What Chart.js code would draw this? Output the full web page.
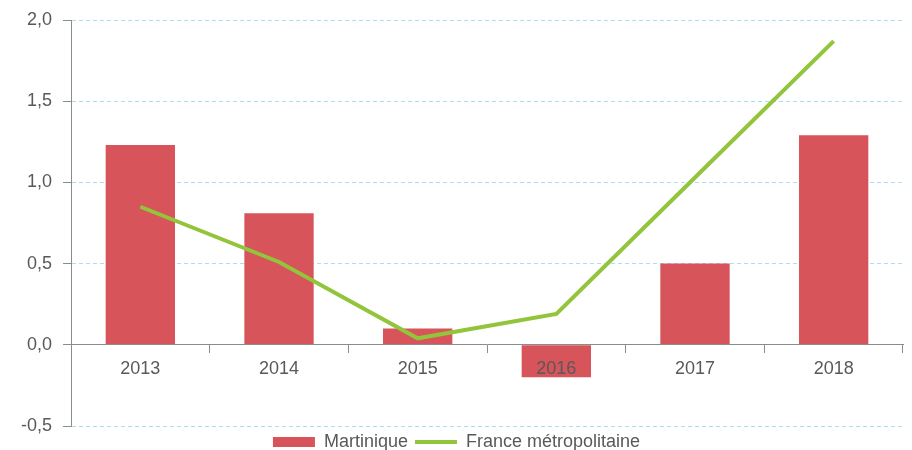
<!DOCTYPE html>
<html lang="fr">
<head>
    <meta charset="UTF-8">
    <title>Martinique / France métropolitaine</title>
    <script src="https://cdn.jsdelivr.net/npm/chart.js"></script>
    <style>
        html, body { margin: 0; padding: 0; background: #fff; }
        .chart-box { width: 912px; height: 450px; }
    </style>
</head>
<body>
    <div class="chart-box">
        <canvas id="evolutionChart"></canvas>
    </div>

    <script>
        // Data
        const years = ['2013', '2014', '2015', '2016', '2017', '2018'];
        const martinique = [1.23, 0.81, 0.10, -0.20, 0.50, 1.29];
        const franceMetro = [0.85, 0.51, 0.04, 0.19, 1.03, 1.87];
        const yTicks = [-0.5, 0, 0.5, 1.0, 1.5, 2.0];

        const textColor = '#595959';
        const axisColor = '#8c8c8c';
        const gridColor = '#a9dff0';

        Chart.defaults.font.family = '"Liberation Sans", Arial, sans-serif';
        Chart.defaults.font.size = 18;
        Chart.defaults.color = textColor;

        const ctx = document.getElementById('evolutionChart').getContext('2d');
        new Chart(ctx, {
            type: 'bar',
            data: {
                labels: years,
                datasets: [{
                    label: 'Martinique',
                    data: martinique,
                    backgroundColor: '#d6545a',
                    borderWidth: 0,
                    barPercentage: 0.5,
                    categoryPercentage: 1,
                    order: 1
                }, {
                    type: 'line',
                    label: 'France métropolitaine',
                    data: franceMetro,
                    borderColor: '#92c43c',
                    backgroundColor: '#92c43c',
                    borderWidth: 4,
                    pointRadius: 0,
                    tension: 0,
                    fill: false,
                    order: 0
                }]
            },
            options: {
                responsive: true,
                maintainAspectRatio: false,
                animation: false,
                layout: {
                    padding: { top: 8, right: 9, left: 10, bottom: -11 }
                },
                plugins: {
                    tooltip: { enabled: false },
                    legend: {
                        position: 'bottom',
                        labels: {
                            usePointStyle: true,
                            pointStyleWidth: 42,
                            boxHeight: 10,
                            padding: 7,
                            color: textColor,
                            font: { size: 18 },
                            sort: (a, b) => a.datasetIndex - b.datasetIndex,
                            generateLabels(chart) {
                                const items = Chart.defaults.plugins.legend.labels.generateLabels(chart);
                                items.forEach(item => {
                                    item.pointStyle = item.datasetIndex === 0 ? 'rect' : 'line';
                                    if (item.datasetIndex === 0) item.lineWidth = 0;
                                });
                                return items;
                            }
                        }
                    }
                },
                scales: {
                    x: {
                        position: { y: 0 },
                        offset: true,
                        grid: {
                            offset: true,
                            drawOnChartArea: false,
                            drawTicks: true,
                            tickLength: 8,
                            color: axisColor,
                            z: 1
                        },
                        border: { color: axisColor, width: 1, z: 1 },
                        ticks: { color: textColor, padding: 5, font: { size: 18 }, z: 1 }
                    },
                    y: {
                        min: -0.5,
                        max: 2,
                        afterBuildTicks(scale) {
                            scale.ticks = yTicks.map(v => ({ value: v }));
                        },
                        grid: {
                            color: c => (c.tick && c.tick.value === 0) ? 'rgba(0,0,0,0)' : gridColor,
                            tickColor: axisColor,
                            tickLength: 8,
                            lineWidth: 1
                        },
                        border: { color: axisColor, width: 1, dash: [4, 3] },
                        ticks: {
                            color: textColor,
                            padding: 11,
                            font: { size: 18, lineHeight: 1 },
                            callback: v => v.toFixed(1).replace('.', ',')
                        }
                    }
                }
            }
        });
    </script>
</body>
</html>
